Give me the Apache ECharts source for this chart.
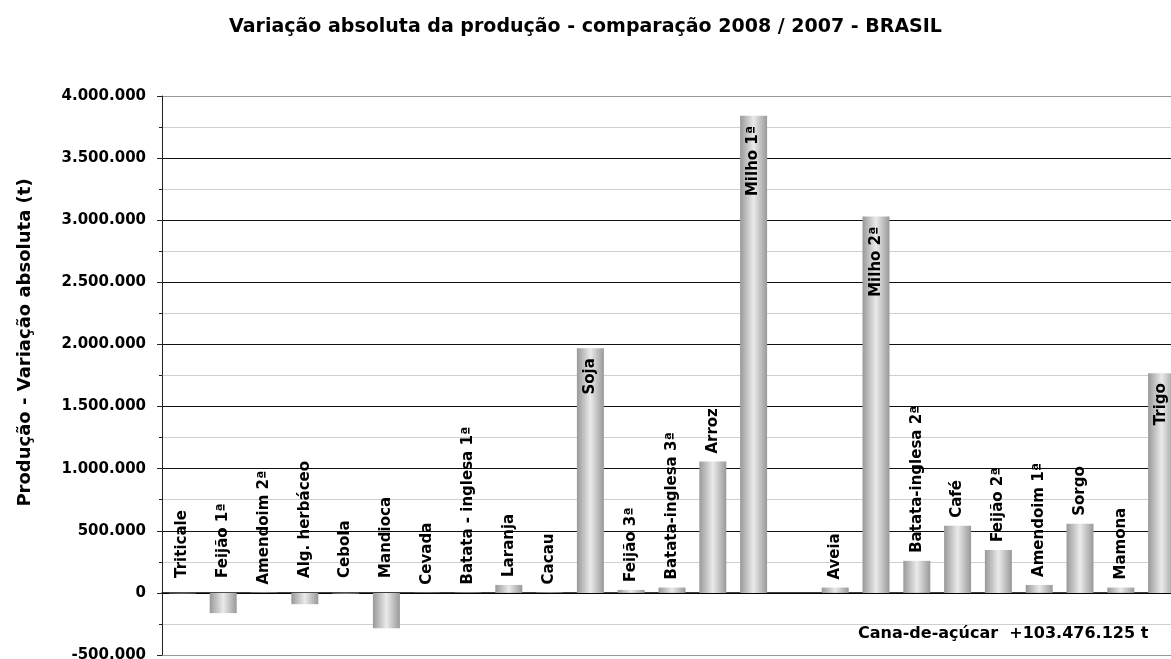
<!DOCTYPE html>
<html>
<head>
<meta charset="utf-8">
<script src="https://cdn.jsdelivr.net/npm/echarts@6.0.0/dist/echarts.min.js"></script>
<style>
  html, body { margin: 0; padding: 0; background: #fff; }
  #chart { width: 1171px; height: 659px; }
</style>
</head>
<body>
<div id="chart"></div>
<script>
var chartTitle = 'Variação absoluta da produção - comparação 2008 / 2007 - BRASIL';
var yAxisTitle = 'Produção - Variação absoluta (t)';
var caneNote = 'Cana-de-açúcar  +103.476.125 t';

var crops = [
  'Triticale', 'Feijão 1ª', 'Amendoim 2ª', 'Alg. herbáceo', 'Cebola', 'Mandioca',
  'Cevada', 'Batata - inglesa 1ª', 'Laranja', 'Cacau', 'Soja', 'Feijão 3ª',
  'Batata-inglesa 3ª', 'Arroz', 'Milho 1ª', 'Cana-de-açúcar', 'Aveia', 'Milho 2ª',
  'Batata-inglesa 2ª', 'Café', 'Feijão 2ª', 'Amendoim 1ª', 'Sorgo', 'Mamona', 'Trigo'
];

// variação absoluta (t); cana fica fora da escala, vai na nota
var variation = [
  -4000, -163000, 3000, -91000, -5000, -284000,
  2000, 3000, 64000, 4000, 1970000, 24000,
  43000, 1057000, 3841000, null, 43000, 3030000,
  258000, 540000, 346000, 64000, 556000, 43000, 1769000
];

var yMin = -500000;
var yMax = 4000000;
var yStep = 500000;

function fmt(v) {
  var s = String(Math.abs(v)).replace(/\B(?=(\d{3})+(?!\d))/g, '.');
  return (v < 0 ? '-' : '') + s;
}

var font = 'DejaVu Sans';

var barFill = new echarts.graphic.LinearGradient(0, 0, 1, 0, [
  { offset: 0, color: '#999' },
  { offset: 0.5, color: '#eaeaea' },
  { offset: 1, color: '#999' }
]);

var barData = variation.map(function (v) {
  if (v == null) return { value: null };
  var tall = v > 1500000;
  return {
    value: v,
    label: tall
      ? { position: 'insideTop', align: 'right', distance: 10 }
      : { position: 'top', align: 'left', distance: v < 0 ? 15 : 8 }
  };
});

// cores das linhas de grade: bordas cinza, principais pretas
var lineColors = [];
for (var t = yMin; t <= yMax; t += yStep) {
  lineColors.push(t === yMin || t === yMax ? '#999' : '#111');
}

var chart = echarts.init(document.getElementById('chart'));
chart.setOption({
  animation: false,
  title: {
    text: chartTitle,
    left: 'center',
    top: 13,
    textStyle: { fontFamily: font, fontWeight: 'bold', fontSize: 19, color: '#000' }
  },
  grid: {
    left: 162,
    top: 96,
    right: -11,
    bottom: 4,
    outerBoundsMode: 'none'
  },
  graphic: [{
    type: 'text',
    left: 858,
    top: 626,
    style: {
      text: caneNote,
      font: 'bold 16px "DejaVu Sans"',
      fill: '#000'
    }
  }],
  xAxis: {
    type: 'category',
    data: crops,
    axisLine: { onZero: true, lineStyle: { color: '#000', width: 1.5 } },
    axisTick: { show: false },
    axisLabel: { show: false },
    splitLine: { show: false }
  },
  yAxis: {
    type: 'value',
    min: yMin,
    max: yMax,
    interval: yStep,
    name: yAxisTitle,
    nameLocation: 'middle',
    nameGap: 128,
    nameTextStyle: {
      fontFamily: font, fontWeight: 'bold', fontSize: 18, color: '#000',
      padding: [0, 0, 0, 66]
    },
    axisLine: { show: true, lineStyle: { color: '#222', width: 1 } },
    axisTick: { show: true, length: 5, lineStyle: { color: '#222' } },
    minorTick: { show: true, splitNumber: 2, length: 3, lineStyle: { color: '#222' } },
    axisLabel: {
      margin: 16,
      fontFamily: font, fontWeight: 'bold', fontSize: 15, color: '#000',
      formatter: fmt
    },
    splitLine: { show: true, lineStyle: { color: lineColors, width: 1.2 } },
    minorSplitLine: { show: true, lineStyle: { color: '#cfcfcf', width: 1 } }
  },
  series: [{
    type: 'bar',
    data: barData,
    barWidth: 27,
    itemStyle: { color: barFill },
    label: {
      show: true,
      rotate: 90,
      verticalAlign: 'middle',
      fontFamily: font,
      fontWeight: 'bold',
      fontSize: 15,
      color: '#000',
      formatter: function (p) { return p.name; }
    }
  }]
});
</script>
</body>
</html>
